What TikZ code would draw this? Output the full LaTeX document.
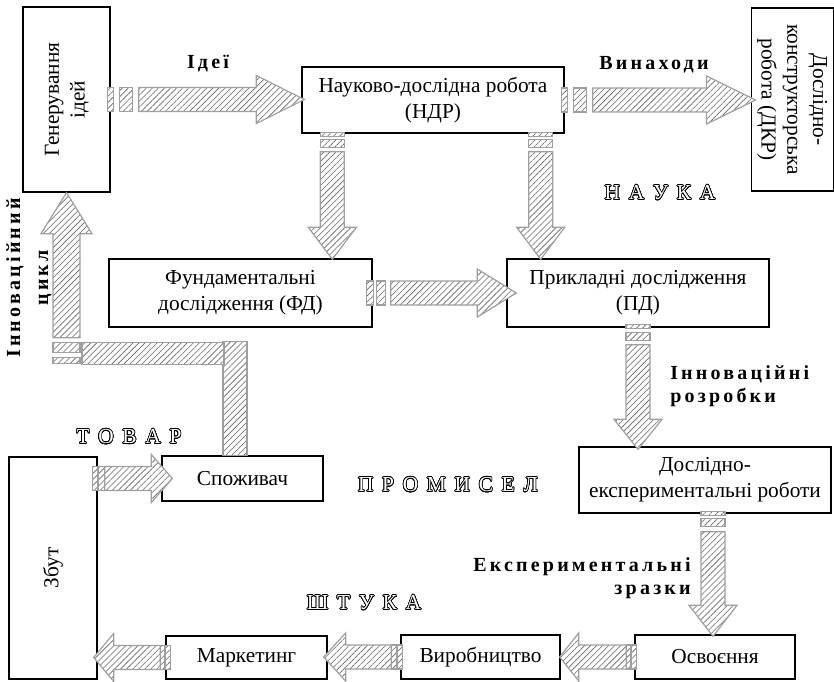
\documentclass[tikz,border=0pt]{standalone}
\usepackage{fontspec}
\usepackage{graphicx}
\usepackage{contour}
\contourlength{0.5pt}
\contournumber{24}
\setmainfont{Liberation Serif}
\newfontfamily\spb[LetterSpace=16,UprightFont={* Bold}]{Liberation Serif}
\newfontfamily\outl[LetterSpace=16]{Liberation Serif}
\usetikzlibrary{calc,patterns.meta}
\newcommand\olt[1]{\contour{black}{\textcolor{white}{#1}}}
\newcommand\shw{12}
\newcommand\hhw{24}
\newcommand\barr[9]{%
  \path let \p1=(#1), \p2=(#2) in \pgfextra{%
    \pgfmathsetmacro\baang{atan2(\y2-\y1,\x2-\x1)}%
    \pgfmathsetmacro\balen{veclen(\x2-\x1,\y2-\y1)/0.75}%
    \xdef\baang{\baang}\xdef\balen{\balen}};
  \begin{scope}[shift={(#1)},rotate=\baang]
    \draw[hatch] (#5,-\shw) rectangle (#6,\shw);
    \draw[hatch] (#7,-\shw) rectangle (#8,\shw);
    \draw[hatch] (#9,-\shw) -- (\balen+#4-#3,-\shw) -- (\balen+#4-#3,-\hhw) -- (\balen+#4,0)
      -- (\balen+#4-#3,\hhw) -- (\balen+#4-#3,\shw) -- (#9,\shw) -- cycle;
  \end{scope}}
\tikzset{
  box/.style={draw, line width=1pt, inner sep=2pt, align=center,
    font=\fontsize{16}{19.3}\selectfont},
  sz/.style 2 args={minimum width=#1*0.75pt, minimum height=#2*0.75pt},
  hatch/.style={draw=gray!75, line width=0.9pt, preaction={fill=white},
    pattern={Lines[angle=45,distance=3.2pt,line width=0.45pt]}, pattern color=gray!80!black},
  blab/.style={font=\spb\fontsize{15}{17.3}\selectfont, inner sep=0pt},
  olab/.style={font=\outl\fontsize{16}{19}\selectfont, inner sep=0pt},
}
\begin{document}
\begin{tikzpicture}[x=0.75pt,y=-0.75pt]
\useasboundingbox (0,0) rectangle (834,681);
% boxes
\node[box, sz={87}{185}] (gen) at (66.5,99.5)
  {\rotatebox{90}{\begin{tabular}{@{}c@{}}Генерування\\ідей\end{tabular}}};
\node[box, sz={262}{66}] (ndr) at (433,100) {Науково-дослідна робота\\(НДР)};
\node[box, sz={77}{183}] (dkr) at (792.5,99.5)
  {\rotatebox{-90}{\begin{tabular}{@{}c@{}}Дослідно-\\конструкторська\\робота (ДКР)\end{tabular}}};
\node[box, sz={263}{68}] (fd) at (240.5,293) {Фундаментальні\\дослідження (ФД)};
\node[box, sz={262}{68}] (pd) at (638,293) {Прикладні дослідження\\(ПД)};
\node[box, sz={252}{66}] (dee) at (705,480) {Дослідно-\\експериментальні роботи};
\node[box, sz={161}{45}] (spo) at (242.5,478.5) {Споживач};
\node[box, sz={88}{222}] (zbut) at (53,568) {\rotatebox{90}{Збут}};
\node[box, sz={161}{43}] (mark) at (246.5,657.5) {Маркетинг};
\node[box, sz={159}{44}] (vyr) at (480.5,657) {Виробництво};
\node[box, sz={160}{44}] (osv) at (715,657) {Освоєння};
% arrows
\barr{gen.east}{ndr.west |- gen.east}{48}{3}{-3}{3}{9}{22}{28}
\barr{ndr.east}{dkr.west |- ndr.east}{49}{5}{-3}{3}{9}{22}{28}
\coordinate (a3) at ($(ndr.south west)+(31,0)$);
\barr{a3}{a3 |- fd.north}{32}{1}{-1}{3}{6}{14}{18}
\coordinate (a4) at ($(ndr.south east)+(-24,0)$);
\barr{a4}{a4 |- pd.north}{32}{1}{-1}{3}{6}{14}{18}
\barr{fd.east}{pd.west |- fd.east}{39}{10}{-6}{1}{4}{13}{18}
\barr{pd.south}{pd.south |- dee.north}{30}{3}{-3}{1}{5}{13}{17}
\coordinate (a7) at ($(dee.south)+(8,0)$);
\barr{a7}{a7 |- osv.north}{31}{2}{-2}{2}{5}{13}{18}
\barr{osv.west}{vyr.east |- osv.west}{19}{1}{-2}{3}{4}{8}{8}
\barr{vyr.west}{mark.east |- vyr.west}{22}{4}{-2}{3}{4}{9}{9}
\barr{mark.west}{zbut.east |- mark.west}{20}{4}{-5}{0}{1}{5}{5}
\barr{zbut.east |- spo.west}{spo.west}{21}{11}{-5}{0}{1}{7}{7}
% innovation cycle
\coordinate (cycS) at ($(gen.south)+(0,172)$);
\draw[hatch] ($(spo.north)+(-19.5,0)$) rectangle ($(spo.north)+(4.5,-114)$);
\draw[hatch] ($(cycS)+(15.5,-22)$) rectangle ($(spo.north)+(-18.5,-91)$);
\renewcommand\shw{13.5}\renewcommand\hhw{25.5}
\barr{cycS}{gen.south}{41}{0}{1}{7}{12}{22}{27}
% labels
\node[blab] (lidei) at (208,64) {Ідеї};
\node[blab] (lvyn) at (654,65) {Винаходи};
\node[blab, rotate=90, align=center, font=\spb\fontsize{15}{21}\selectfont] (lcyc) at (29,278) {Інноваційний\\цикл};
\node[blab, align=left, anchor=west] (lrozr) at (670,386.5) {Інноваційні\\розробки};
\node[blab, align=right, anchor=east] (lzr) at (691,578.5) {Експериментальні\\зразки};
\node[olab] (nauka) at (660,193) {\olt{Н А У К А}};
\node[olab] (tovar) at (129,437) {\olt{Т О В А Р}};
\node[olab] (prom) at (448,485) {\olt{П Р О М И С Е Л}};
\node[olab] (shtuka) at (364,603) {\olt{Ш Т У К А}};
\end{tikzpicture}
\end{document}
